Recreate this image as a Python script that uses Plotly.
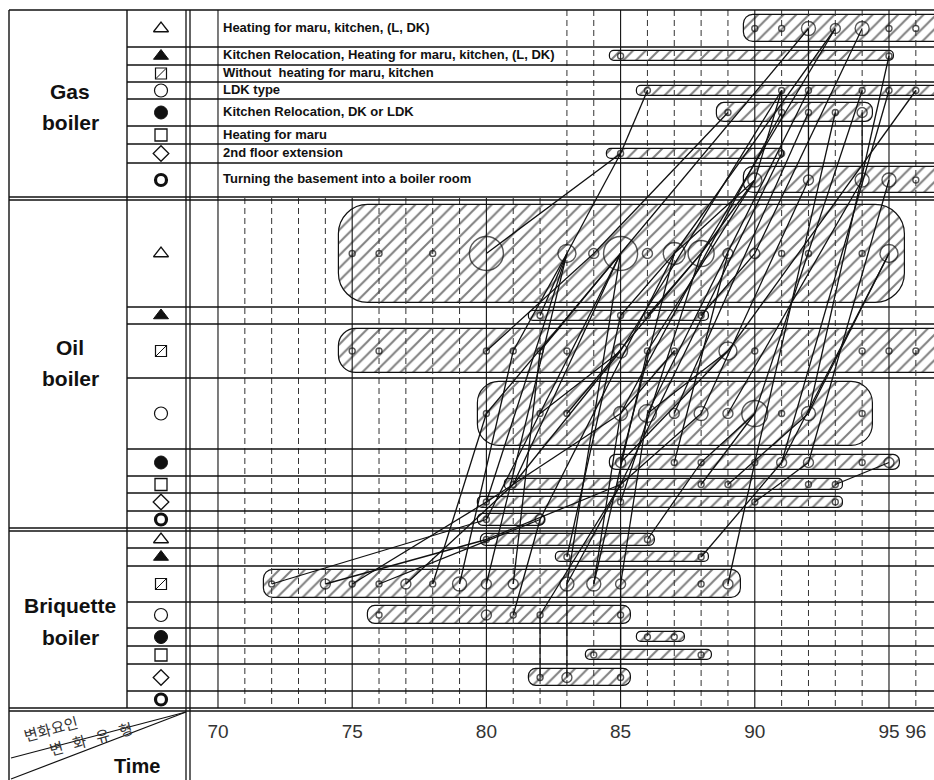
import plotly.graph_objects as go

# ---------------- data ----------------
tick_years = [70, 75, 80, 85, 90, 95, 96]

group_names = [["Gas", "boiler"], ["Oil", "boiler"], ["Briquette", "boiler"]]

gas_type_labels = [
    "Heating for maru, kitchen, (L, DK)",
    "Kitchen Relocation, Heating for maru, kitchen, (L, DK)",
    "Without\u00a0 heating for maru, kitchen",
    "LDK type",
    "Kitchen Relocation, DK or LDK",
    "Heating for maru",
    "2nd floor extension",
    "Turning the basement into a boiler room",
]

# eight change types per boiler group (G = gas, O = oil, B = briquette)
row_codes = ["G1", "G2", "G3", "G4", "G5", "G6", "G7", "G8",
             "O1", "O2", "O3", "O4", "O5", "O6", "O7", "O8",
             "B1", "B2", "B3", "B4", "B5", "B6", "B7", "B8"]

# period each type was observed (years, 19xx)
bar_start = [89.6, 84.6, None, 85.6, 88.6, None, 84.5, 89.6,
             74.5, 81.6, 74.5, 79.7, 84.6, 80.7, 79.7, 79.7,
             79.8, 82.6, 71.7, 75.6, 85.6, 83.7, 81.6, None]
bar_end = [97.5, 95.2, None, 97.5, 94.4, None, 91.1, 97.5,
           95.6, 88.3, 97.5, 94.4, 95.4, 93.3, 93.3, 82.2,
           86.3, 88.3, 89.5, 85.4, 87.4, 88.4, 85.4, None]

# houses observed per year in each type
circle_years = [
    [90, 91, 92, 93, 94, 95, 96], [85, 95], [], [86, 91, 92, 94, 95, 96],
    [89, 91, 92, 93, 94], [], [85, 91], [90, 92, 94, 95, 96],
    [75, 76, 78, 80, 83, 84, 85, 86, 87, 88, 89, 90, 91, 92, 94, 95],
    [82, 85, 86, 88],
    [75, 76, 80, 81, 82, 83, 85, 86, 87, 89, 90, 94, 95, 96],
    [80, 82, 83, 85, 86, 87, 88, 89, 90, 91, 92, 94],
    [85, 87, 88, 90, 91, 92, 94, 95],
    [81, 85, 88, 89, 92, 93], [80, 85, 90, 93], [80, 82],
    [80, 86], [83, 88],
    [72, 74, 75, 76, 77, 78, 79, 80, 81, 83, 84, 85, 88, 89],
    [76, 80, 81, 82, 85], [86, 87], [84, 88], [82, 83, 85], [],
]
circle_counts = [
    [1, 1, 3, 2, 3, 1, 1], [1, 1], [], [1, 1, 1, 1, 1, 1],
    [1, 1, 1, 1, 2], [], [1, 1], [3, 2, 3, 3, 1],
    [1, 1, 1, 8, 4, 2, 8, 2, 5, 6, 2, 2, 1, 1, 1, 4],
    [1, 1, 1, 1],
    [1, 1, 1, 1, 1, 1, 3, 1, 1, 4, 1, 1, 1, 1],
    [1, 1, 1, 3, 4, 2, 3, 2, 6, 1, 3, 1],
    [2, 1, 1, 1, 2, 2, 1, 2],
    [1, 1, 1, 1, 1, 1], [1, 1, 1, 1], [1, 2],
    [1, 1], [1, 1],
    [1, 2, 1, 1, 2, 1, 3, 2, 2, 3, 3, 2, 1, 2],
    [1, 2, 1, 1, 1], [1, 1], [1, 1], [1, 2, 1], [],
]

# changes of a house from one type to another: (from type, year, to type, year)
transitions = [
    ("G7", 85, "G4", 86), ("G8", 92, "G1", 92), ("G8", 94, "G5", 94),
    ("G7", 91, "G4", 91), ("G8", 90, "G4", 91),
    ("O1", 80, "G7", 85), ("O1", 83, "G7", 85), ("O1", 84, "G5", 89),
    ("O1", 85, "G1", 92), ("O1", 87, "G8", 90), ("O1", 88, "G8", 90),
    ("O3", 85, "G4", 91), ("O1", 88, "G1", 93), ("O1", 87, "G1", 93),
    ("O1", 90, "G1", 94), ("O4", 86, "G4", 92), ("O4", 85, "G5", 91),
    ("O4", 90, "G4", 94), ("O5", 91, "G4", 95), ("O3", 89, "G4", 96),
    ("O4", 88, "G8", 92), ("O4", 89, "G8", 94), ("O5", 92, "G8", 95),
    ("O3", 86, "G8", 90), ("O4", 87, "G5", 92), ("O4", 92, "G2", 95),
    ("O6", 85, "G7", 91), ("O5", 90, "G5", 93),
    ("O2", 82, "O1", 83), ("O8", 80, "O1", 85), ("O8", 82, "O1", 87),
    ("O7", 80, "O4", 85), ("O7", 80, "O1", 83), ("O6", 81, "O3", 85),
    ("O6", 81, "O1", 85), ("O7", 85, "O1", 88), ("O6", 85, "O4", 88),
    ("O5", 85, "O1", 87), ("O5", 85, "O3", 89), ("O4", 80, "O1", 85),
    ("O4", 83, "O1", 88), ("O3", 81, "O1", 83), ("O3", 82, "O1", 85),
    ("O2", 85, "O1", 87), ("O2", 86, "O1", 88), ("O2", 88, "O1", 90),
    ("O4", 85, "O3", 87), ("O4", 86, "O3", 89), ("O6", 88, "O4", 90),
    ("O6", 89, "O4", 92), ("O7", 90, "O5", 92), ("O6", 93, "O5", 95),
    ("O5", 91, "O1", 95), ("O4", 92, "O1", 95), ("O5", 88, "O4", 90),
    ("O4", 82, "O3", 85), ("O3", 80, "O1", 84), ("O5", 87, "O1", 89),
    ("B3", 72, "O8", 80), ("B3", 74, "B1", 80), ("B3", 76, "O8", 82),
    ("B3", 77, "O6", 81), ("B3", 79, "O3", 81), ("B3", 80, "O1", 83),
    ("B3", 81, "O3", 82), ("B3", 83, "O1", 85), ("B3", 84, "O3", 86),
    ("B3", 85, "O4", 86), ("B3", 84, "O4", 85), ("B3", 83, "O6", 85),
    ("B3", 89, "O5", 90), ("B2", 88, "O5", 91), ("B2", 83, "O2", 85),
    ("B1", 86, "O5", 88), ("B4", 81, "O8", 82), ("B4", 82, "O6", 85),
    ("B7", 82, "B4", 82), ("B7", 83, "B3", 83), ("B7", 85, "B3", 85),
    ("B3", 75, "O7", 80), ("B3", 78, "O4", 80), ("B1", 80, "O6", 85),
]

# ---------------- geometry / style ----------------
W, H = 934, 780
PLOT_LEFT, PLOT_TOP, PLOT_BOTTOM = 190, 10, 708
X_LEFT, X_RIGHT = 68.957, 96.677
INK = "#111111"

row_heights_px = [37, 18, 17, 17, 27, 18, 19, 34,
                  107, 17, 54, 71, 27, 17, 18, 17,
                  17, 18, 36, 26, 18, 18, 27, 17]
GROUP_GAP = 3
bar_px = [27, 10, 0, 10, 19, 0, 10, 26,
          98, 10, 44, 64, 15, 11, 11, 12,
          12, 10, 28, 18, 10, 10, 17, 0]
bar_radius = [10, 5, 0, 5, 8, 0, 5, 10,
              30, 5, 18, 22, 7, 5, 5, 6,
              6, 5, 10, 8, 5, 5, 8, 0]


def fx(px):
    return px / W


def fy(py):
    return 1 - py / H


# row boundaries in pixels; y axis value = pixel - PLOT_TOP
row_top, row_bot = [], []
cur = PLOT_TOP
for i, h in enumerate(row_heights_px):
    if i > 0 and i % 8 == 0:
        cur += GROUP_GAP
    row_top.append(cur)
    cur += h
    row_bot.append(cur)
row_center = [(a + b) / 2 - PLOT_TOP for a, b in zip(row_top, row_bot)]
row_index = {c: i for i, c in enumerate(row_codes)}

fig = go.Figure()

# hatched period bars
for i, code in enumerate(row_codes):
    s, e = bar_start[i], bar_end[i]
    if s is None:
        continue
    fig.add_trace(go.Bar(
        orientation="h", y=[row_center[i]], base=[s], x=[e - s],
        width=[bar_px[i]],
        marker=dict(color="white", cornerradius=bar_radius[i],
                    line=dict(color=INK, width=1.2),
                    pattern=dict(shape="/", size=9, solidity=0.22,
                                 fgcolor="#000000", bgcolor="white")),
        hoverinfo="skip", showlegend=False))

# year grid: solid every five years, dashed otherwise
gas_bottom = row_bot[7] + 1 - PLOT_TOP
full_bottom = PLOT_BOTTOM - PLOT_TOP
solid_x, solid_y, dash_x, dash_y = [], [], [], []
for yr in range(70, 97):
    y0 = 0 if (yr == 70 or yr >= 83) else gas_bottom
    if yr % 5 == 0:
        solid_x += [yr, yr, None]
        solid_y += [y0, full_bottom, None]
    else:
        dash_x += [yr, yr, None]
        dash_y += [y0, full_bottom, None]
fig.add_trace(go.Scatter(x=solid_x, y=solid_y, mode="lines",
                         line=dict(color=INK, width=1.1),
                         hoverinfo="skip", showlegend=False))
fig.add_trace(go.Scatter(x=dash_x, y=dash_y, mode="lines",
                         line=dict(color="#333333", width=1, dash="6px,4px"),
                         hoverinfo="skip", showlegend=False))

# transitions between types
lx, ly = [], []
for a, ya, b, yb in transitions:
    lx += [ya, yb, None]
    ly += [row_center[row_index[a]], row_center[row_index[b]], None]
fig.add_trace(go.Scatter(x=lx, y=ly, mode="lines",
                         line=dict(color=INK, width=1.3),
                         hoverinfo="skip", showlegend=False))

# yearly observation circles
cx, cy, cs = [], [], []
for i in range(len(row_codes)):
    for yr, n in zip(circle_years[i], circle_counts[i]):
        cx.append(yr)
        cy.append(row_center[i])
        cs.append(2 + 4 * n)
fig.add_trace(go.Scatter(x=cx, y=cy, mode="markers",
                         marker=dict(symbol="circle-open", size=cs, color=INK,
                                     line=dict(width=1.4)),
                         hoverinfo="skip", showlegend=False))

# type symbols in the key column
sym_x = 161
type_markers = [
    ("triangle-up-open", 13, 1.3), ("triangle-up", 13, 1), ("square-open", 11, 1.2),
    ("circle-open", 13, 1.2), ("circle", 13, 1), ("square-open", 12, 1.3),
    ("diamond-open", 12, 1.3), ("circle-open", 11, 3.2),
]
for k, (sym, size, lw) in enumerate(type_markers):
    ys = [row_center[g * 8 + k] for g in range(3)]
    fig.add_trace(go.Scatter(x=[sym_x] * 3, y=ys, xaxis="x2", mode="markers",
                             marker=dict(symbol=sym, size=size, color=INK,
                                         line=dict(width=lw, color=INK)),
                             hoverinfo="skip", showlegend=False))
    if k == 2:
        fig.add_trace(go.Scatter(x=[sym_x] * 3, y=ys, xaxis="x2", mode="markers",
                                 marker=dict(symbol="line-ne", size=10, color=INK,
                                             line=dict(width=1, color=INK)),
                                 hoverinfo="skip", showlegend=False))

# ---------------- table frame ----------------
shapes = []


def hline(y, x0, x1, w=1.4):
    shapes.append(dict(type="line", xref="paper", yref="paper", x0=fx(x0), x1=fx(x1),
                       y0=fy(y), y1=fy(y), line=dict(color=INK, width=w)))


def vline(x, y0, y1, w=1.4):
    shapes.append(dict(type="line", xref="paper", yref="paper", x0=fx(x), x1=fx(x),
                       y0=fy(y0), y1=fy(y1), line=dict(color=INK, width=w)))


hline(PLOT_TOP, 9, W, 1.6)
for g in range(3):
    for k in range(1, 8):
        hline(row_top[g * 8 + k], 127, W, 1.4)
for yb in (row_bot[7], row_bot[15], row_bot[23]):
    hline(yb, 9, W, 1.3)
    hline(yb + GROUP_GAP, 9, W, 1.3)
vline(9, PLOT_TOP, H, 1.4)
vline(127, PLOT_TOP, PLOT_BOTTOM, 1.4)
vline(186, PLOT_TOP, H, 1.3)
vline(190, PLOT_TOP, H, 1.3)
# diagonal header cell
shapes.append(dict(type="line", xref="paper", yref="paper", x0=fx(11), y0=fy(758),
                   x1=fx(186), y1=fy(712), line=dict(color=INK, width=1.2)))
shapes.append(dict(type="line", xref="paper", yref="paper", x0=fx(11), y0=fy(779),
                   x1=fx(186), y1=fy(712), line=dict(color=INK, width=1.2)))

annotations = []
group_label_y = [(91, 122), (347, 378), (605, 637)]
for names, ys in zip(group_names, group_label_y):
    for name, yy in zip(names, ys):
        annotations.append(dict(xref="paper", yref="paper", x=fx(70), y=fy(yy),
                                text="<b>%s</b>" % name, showarrow=False,
                                xanchor="center", yanchor="middle",
                                font=dict(family="Liberation Sans", size=21, color="#111")))
for k, lab in enumerate(gas_type_labels):
    annotations.append(dict(xref="paper", yref="paper", x=fx(221),
                            y=fy(row_center[k] + PLOT_TOP - 1),
                            text="<b>%s</b>" % lab, showarrow=False,
                            xanchor="left", yanchor="middle",
                            font=dict(family="Liberation Sans", size=13, color="#111")))
annotations.append(dict(xref="paper", yref="paper", x=fx(50), y=fy(728),
                        text="변화요인", showarrow=False, textangle=-15,
                        xanchor="center", yanchor="middle",
                        font=dict(family="Noto Sans CJK KR", size=15, color="#333")))
annotations.append(dict(xref="paper", yref="paper", x=fx(90), y=fy(738),
                        text="변\u00a0\u00a0\u00a0화\u00a0\u00a0\u00a0유\u00a0\u00a0\u00a0형",
                        showarrow=False, textangle=-15,
                        xanchor="center", yanchor="middle",
                        font=dict(family="Noto Sans CJK KR", size=15, color="#333")))
annotations.append(dict(xref="paper", yref="paper", x=fx(137), y=fy(766),
                        text="<b>Time</b>", showarrow=False,
                        xanchor="center", yanchor="middle",
                        font=dict(family="Liberation Sans", size=20, color="#111")))

fig.update_layout(
    width=W, height=H, autosize=False,
    margin=dict(l=0, r=0, t=0, b=0),
    paper_bgcolor="white", plot_bgcolor="rgba(0,0,0,0)",
    barmode="overlay", bargap=0,
    showlegend=False,
    xaxis=dict(domain=[fx(PLOT_LEFT), 1], range=[X_LEFT, X_RIGHT], anchor="y",
               tickmode="array", tickvals=tick_years,
               ticktext=[str(v) for v in tick_years],
               showgrid=False, zeroline=False, showline=False, ticks="",
               ticklabelstandoff=10,
               tickfont=dict(family="Liberation Sans", size=19, color="#333"),
               fixedrange=True),
    xaxis2=dict(domain=[0, fx(PLOT_LEFT)], range=[0, PLOT_LEFT], anchor="y",
                visible=False, fixedrange=True),
    yaxis=dict(domain=[fy(PLOT_BOTTOM), fy(PLOT_TOP)],
               range=[PLOT_BOTTOM - PLOT_TOP, 0], visible=False, fixedrange=True),
    shapes=shapes, annotations=annotations,
)

fig.write_html("out.html")
